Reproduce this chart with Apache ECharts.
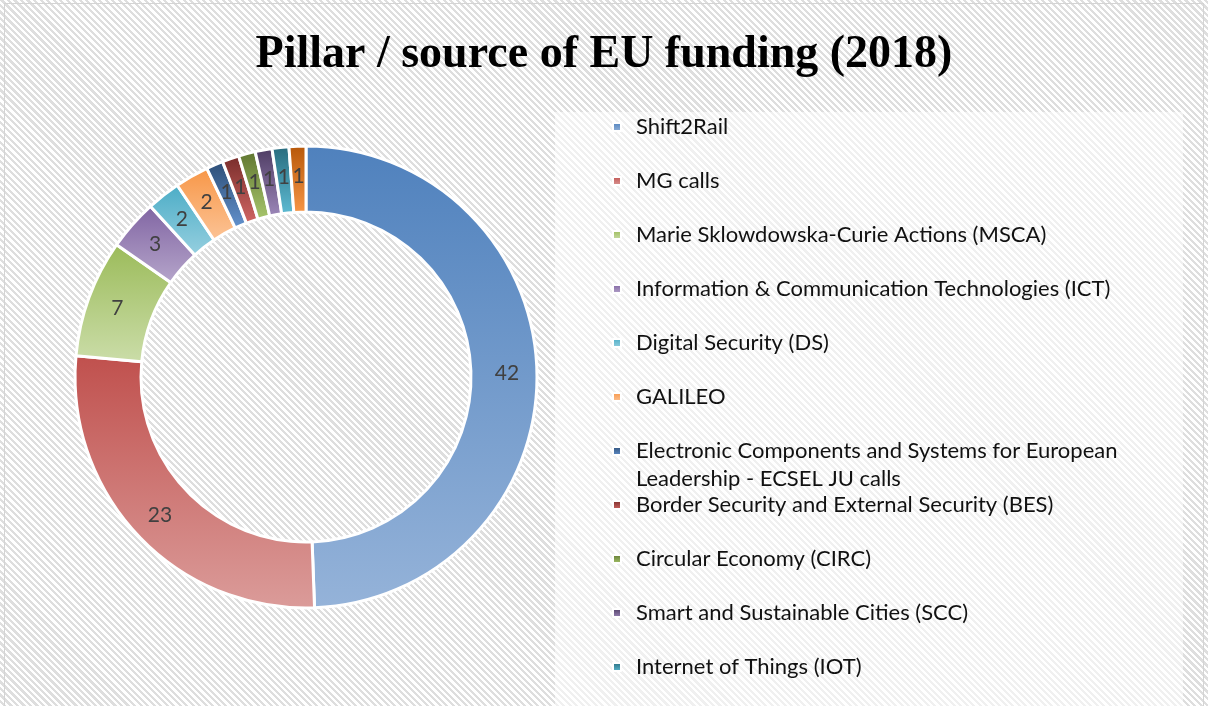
<!DOCTYPE html>
<html>
<head>
<meta charset="utf-8">
<script src="https://cdn.jsdelivr.net/npm/echarts@6/dist/echarts.min.js"></script>
<style>
html,body{margin:0;padding:0;background:#fff;}
#wrap{position:relative;width:1208px;height:706px;overflow:hidden;
 background:repeating-linear-gradient(45deg,#ffffff 0px,#ffffff 2.4px,#dedede 2.4px,#dedede 4.6px);}
#frame{position:absolute;left:4px;top:3px;width:1200px;height:720px;border:1px solid #d4d4d4;box-sizing:border-box;}
#panel{position:absolute;left:555px;top:112px;width:628px;height:600px;background:rgba(255,255,255,0.55);}
#chart{position:absolute;left:0;top:0;width:1208px;height:706px;}
</style>
</head>
<body>
<div id="wrap"><div id="frame"></div><div id="panel"></div><div id="chart"></div></div>
<script>
var categories = [
  'Shift2Rail',
  'MG calls',
  'Marie Sklowdowska-Curie Actions (MSCA)',
  'Information & Communication Technologies (ICT)',
  'Digital Security (DS)',
  'GALILEO',
  'Electronic Components and Systems for European Leadership - ECSEL JU calls',
  'Border Security and External Security (BES)',
  'Circular Economy (CIRC)',
  'Smart and Sustainable Cities (SCC)',
  'Internet of Things (IOT)',
  'Other'
];
var values = [42, 23, 7, 3, 2, 2, 1, 1, 1, 1, 1, 1];
var legendNames = categories.slice(0, 11);
var wrapSplit = 'Electronic Components and Systems for European';
var topColors = ['#4F81BD','#C0504D','#9BBB59','#8064A2','#4BACC6','#F79646','#2C4D75','#772C2A','#5F7530','#4D3B62','#276A7C','#B65708'];
var bottomColors = ['#95B3D9','#DB9C9A','#CBDDA9','#B6A6CB','#97D0E0','#FCC497','#6493CF','#D26764','#A8C76D','#9D88BA','#5EBCD4','#F79647'];

var chart = echarts.init(document.getElementById('chart'), null, {renderer:'canvas'});

var data = categories.map(function(n, i){
  return {
    name: n, value: values[i],
    itemStyle: {
      color: new echarts.graphic.LinearGradient(0,0,0,1,[
        {offset:0,color:topColors[i]},{offset:1,color:bottomColors[i]}
      ])
    }
  };
});

var rowTop = 111, rowStep = 54;
var legendText = {fontFamily:'Lato', fontSize:22, color:'#111', padding:[0,0,0,10]};
var legends = legendNames.map(function(n, i){
  return {
    orient:'vertical', left: 607, top: rowTop + i*rowStep,
    data:[n], icon:'rect', itemWidth:8, itemHeight:8,
    selectedMode:false,
    formatter: function(name){
      return name.indexOf(wrapSplit) === 0 ? wrapSplit : name;
    },
    textStyle: legendText
  };
});

var wrapIdx = legendNames.findIndex(function(n){ return n.indexOf(wrapSplit) === 0; });
var wrapRest = legendNames[wrapIdx].slice(wrapSplit.length + 1);

chart.setOption({
  backgroundColor:'transparent',
  animation:false,
  title:{
    text:'Pillar / source of EU funding (2018)',
    left:'center', top:27,
    textStyle:{fontFamily:'Liberation Serif', fontWeight:'bold', fontSize:46, color:'#000'}
  },
  legend: legends,
  graphic:[{
    type:'text', left:636, top: rowTop + wrapIdx*rowStep + 5 + 28,
    style:{text: wrapRest, font:'22px Lato', fill:'#111'}
  }],
  series:[{
    type:'pie',
    center:[306,377],
    radius:[165,231],
    startAngle:90,
    clockwise:true,
    avoidLabelOverlap:false,
    itemStyle:{borderColor:'#ffffff', borderWidth:3},
    label:{show:true, position:'inside', formatter:'{c}', fontFamily:'Lato', fontSize:21, color:'#404040'},
    labelLine:{show:false},
    emphasis:{disabled:true},
    data:data
  }]
});
</script>
</body>
</html>
